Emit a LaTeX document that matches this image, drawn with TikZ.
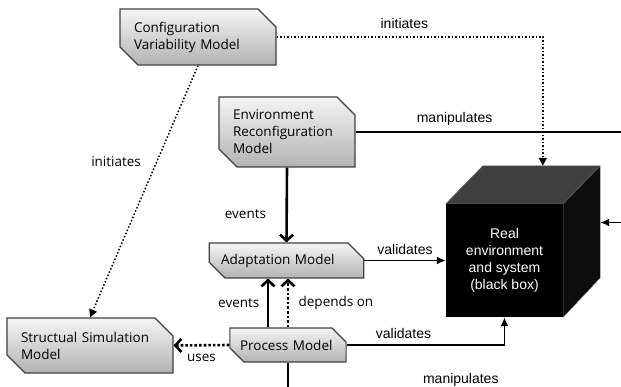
\documentclass[tikz,border=0pt]{standalone}
\usepackage{fontspec}
\newfontfamily\boxfont{Open Sans}
\newfontfamily\labfont{Liberation Sans}
\usetikzlibrary{shapes.misc,arrows.meta}

\begin{document}
\begin{tikzpicture}[x=1pt, y=-1pt,
		model/.style={chamfered rectangle, chamfered rectangle corners={north east,south west},
			chamfered rectangle xsep=9pt, chamfered rectangle ysep=9pt, draw=black!75, line width=1.1pt,
			top color=black!4, bottom color=black!30, inner xsep=5pt, inner ysep=0pt, align=left,
			font=\boxfont\fontsize{13.5}{17}\selectfont},
		lab/.style={font=\labfont\fontsize{14}{17}\selectfont},
		slab/.style={font=\boxfont\fontsize{13.5}{17}\selectfont},
		init/.style={dotted, line width=1.5pt, -{Triangle[length=8pt,width=8pt]}},
		act/.style={line width=1.7pt, -{Latex[length=9pt,width=8pt]}},
		evt/.style={line width=2.6pt, -{Straight Barb[length=6pt,width=13pt]}},
		dep/.style={dotted, line width=2.6pt, -{Straight Barb[length=6pt,width=13pt]}}]

		\useasboundingbox (0,0) rectangle (621,387);

		% models
		\node[model, text width=128pt, minimum height=56pt] (cvm) at (198,37) {Configuration\\Variability Model};
		\node[model, text width=108pt, minimum height=70pt] (erm) at (287,132) {Environment\\Reconfiguration\\Model};
		\node[model, text width=131pt, minimum height=35pt] (am) at (286.5,260.5) {Adaptation Model};
		\node[model, text width=96pt, minimum height=34pt] (pm) at (288,345) {Process Model};
		\node[model, text width=138pt, minimum height=55pt] (ssm) at (90,345.5) {Structual Simulation\\Model};

		% the black box
		\node[fill=black, text=white, minimum width=117pt, minimum height=113pt, inner sep=0pt, align=center,
			font=\labfont\fontsize{14}{17}\selectfont] (rs) at (504.5,260.5) {Real\\environment\\and system\\(black box)};
		\coordinate (rsback) at ([shift={(37,-38)}]rs.north west);
		\coordinate (rsright) at ([shift={(37,-38)}]rs.east);
		\filldraw[fill=black!75, draw=black!60, line width=0.4pt] (rs.north west) -- (rsback) -- ++(117,0) -- (rs.north east) -- cycle;
		\filldraw[fill=black!95, draw=black!60, line width=0.4pt] (rs.north east) -- ++(37,-38) -- ++(0,112) -- (rs.south east) -- cycle;

		% connectors
		\draw[init] (cvm.east) -- node[lab, above=4pt, pos=0.48]{initiates} ([xshift=60pt]rsback |- cvm.east) -- ([xshift=60pt]rsback);
		\draw[init] (cvm.south) -- node[slab, left=12pt, pos=0.38]{initiates} (ssm.north);
		\draw[act] (erm.east) -- node[lab, above=2pt, pos=0.33]{manipulates} ++(300,0) |- (rsright);
		\draw[evt] (erm.south) -- node[slab, left=16pt, pos=0.62]{events} (am.north);
		\draw[act] (am.east) -- node[lab, above=2pt]{validates} (rs.west |- am.east);
		\draw[evt] ([xshift=-20pt]pm.north) -- node[slab, left=4pt]{events} ([xshift=-20pt]pm.north |- am.south);
		\draw[dep] (pm.north) -- node[slab, right=6pt]{depends on} (pm.north |- am.south);
		\draw[dep] (pm.west) -- node[slab, below=4pt]{uses} (ssm.east);
		\draw[act] (pm.east) -- node[lab, above=2pt, pos=0.36]{validates} (rs.south |- pm.east) -- (rs.south);
		\draw[act] (pm.south) -- ++(0,29) -- node[lab, above=1pt, pos=0.48]{manipulates} ++(360,0);
%		\draw[act] (rs.east) -- ++(40,0);

	\end{tikzpicture}
\end{document}
